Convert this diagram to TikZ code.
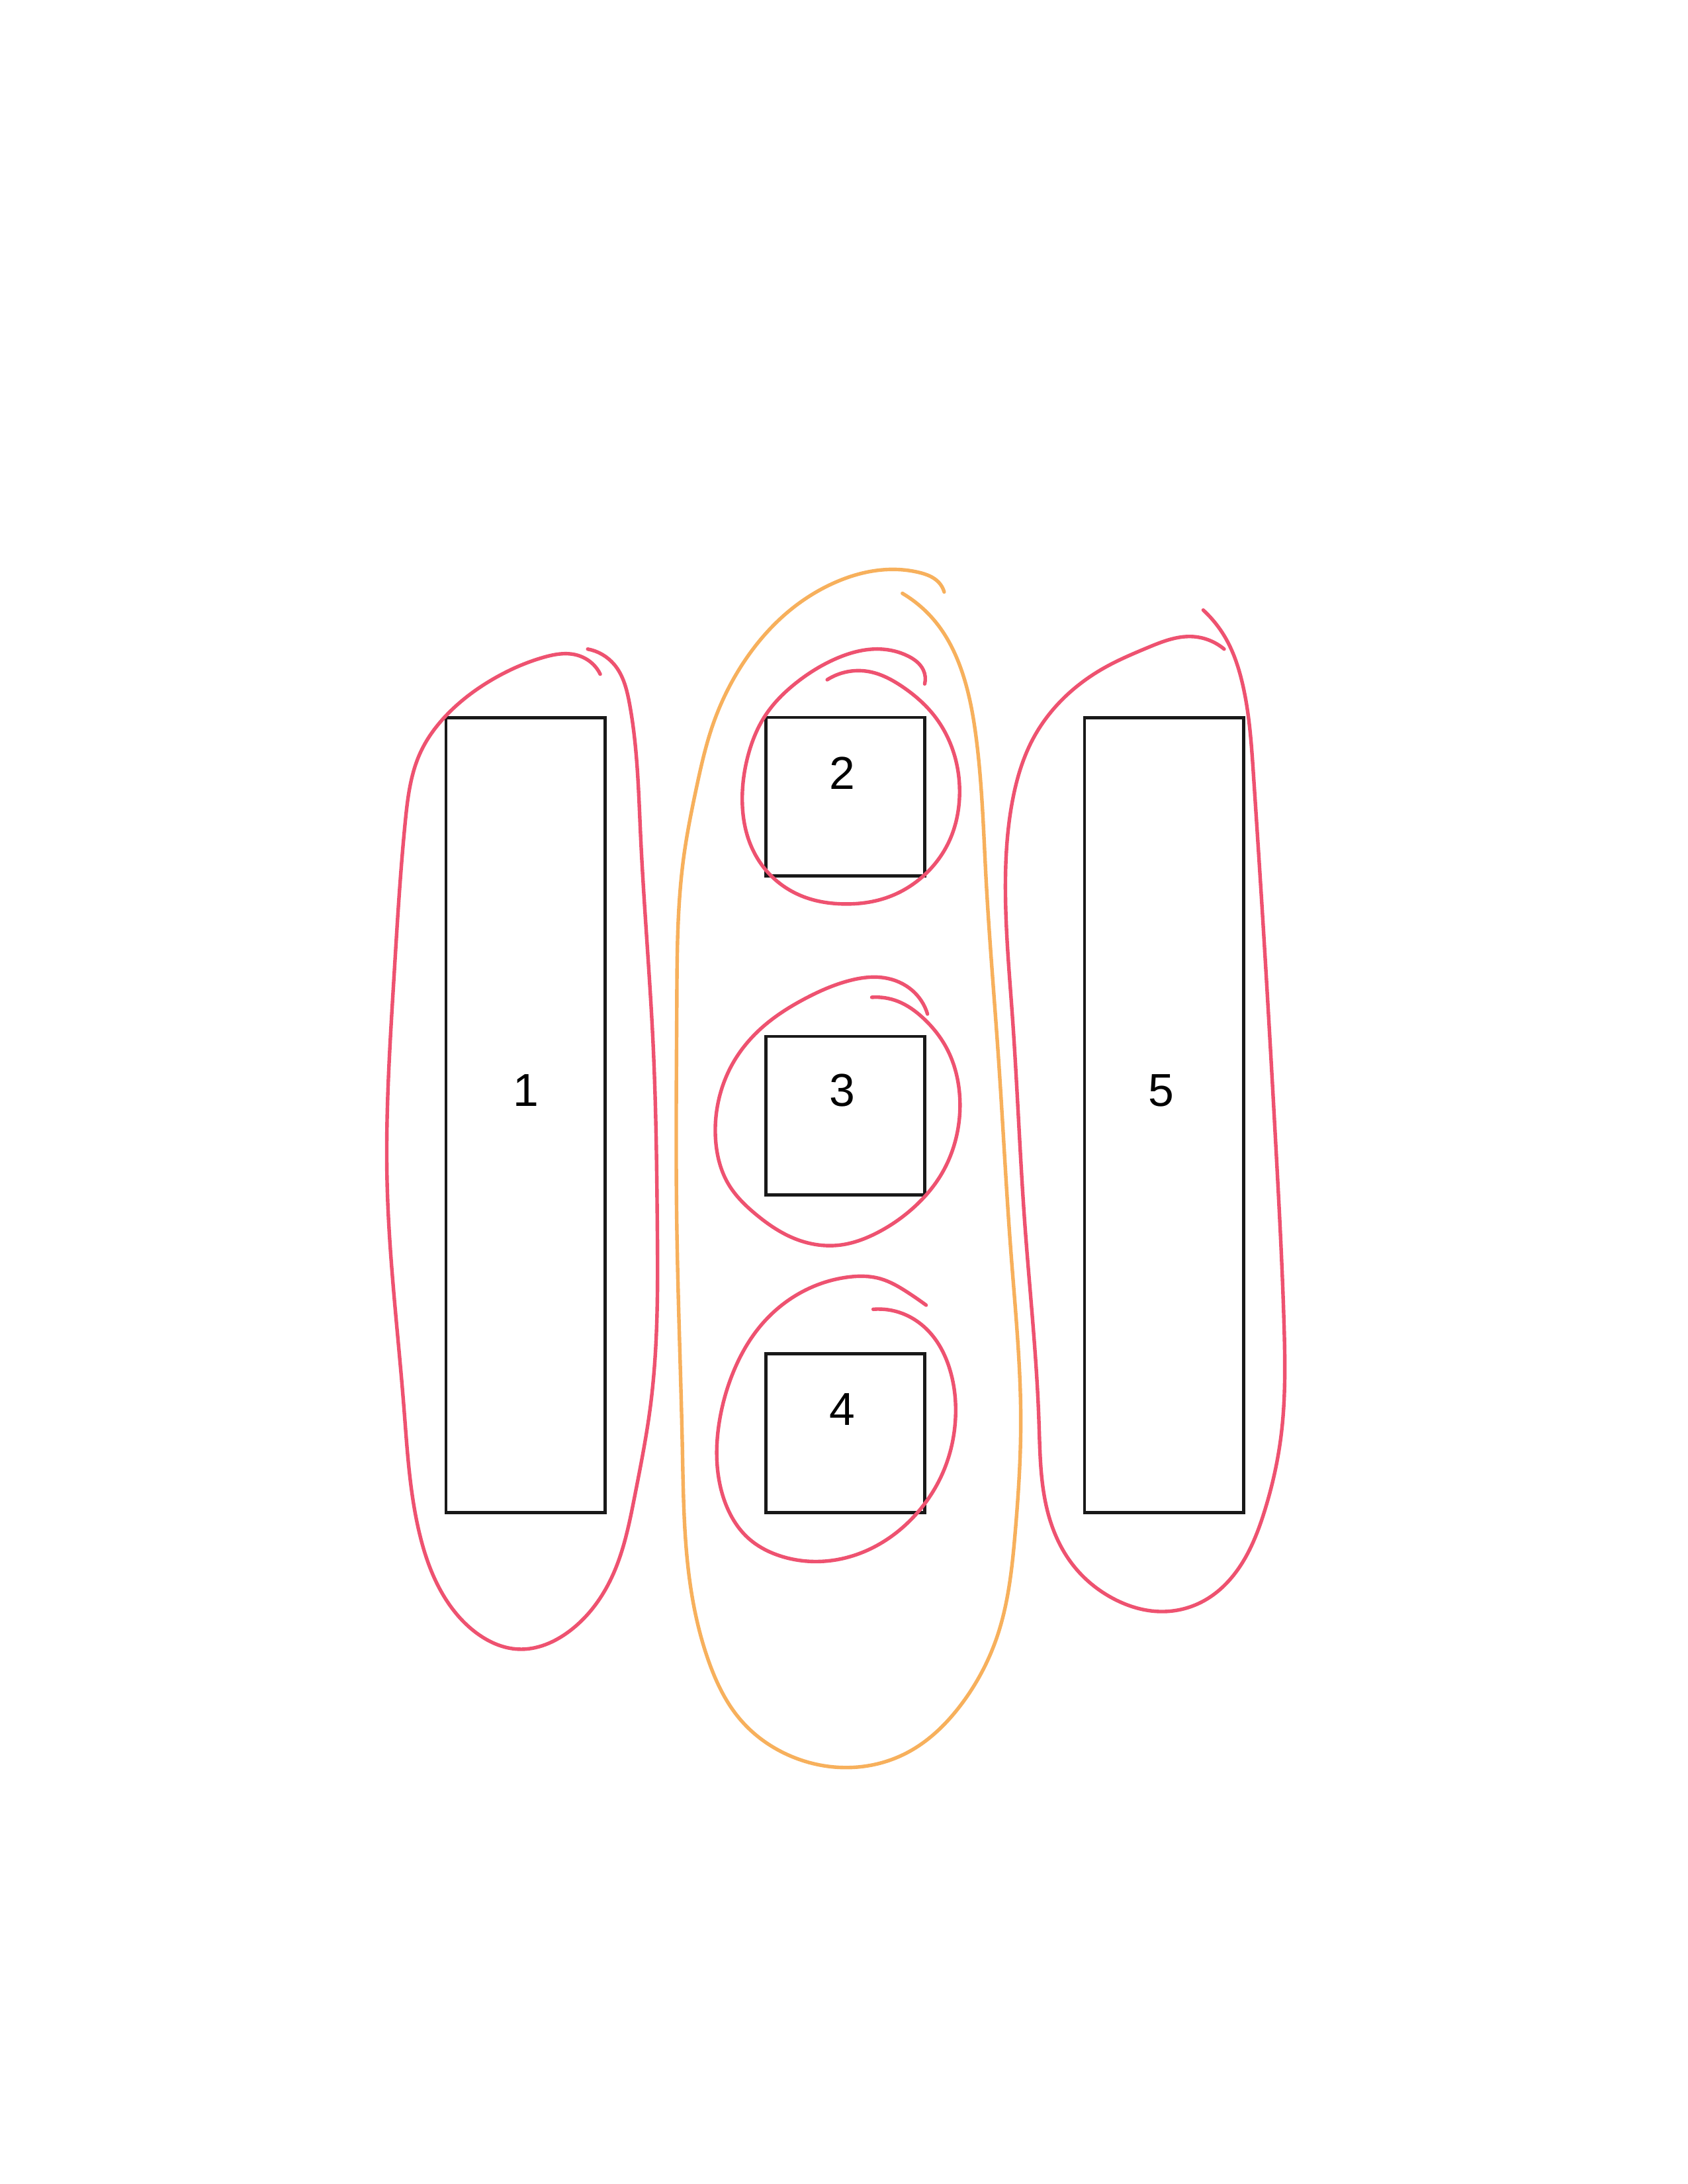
\documentclass[tikz,border=0pt]{standalone}
\usepackage{fontspec}
\setmainfont{Liberation Sans}
\usetikzlibrary{calc,hobby}
\definecolor{loopred}{RGB}{238,82,112}
\definecolor{looporange}{RGB}{247,176,92}
\begin{document}
\begin{tikzpicture}[x=0.0070132in,y=-0.0070132in,
  boxst/.style={draw=black!90,line width=1.15pt,inner sep=0pt,outer sep=0pt},
  tallbox/.style={boxst,minimum width=0.8030in,minimum height=4.0045in},
  sqbox/.style={boxst,minimum width=0.7995in,minimum height=0.7995in},
  lab/.style={inner sep=0pt,font=\fontsize{16.8}{20}\selectfont},
  redloop/.style={draw=loopred,line width=1.3pt,line cap=round,line join=round},
  orangeloop/.style={draw=looporange,line width=1.3pt,line cap=round,line join=round}]
\useasboundingbox[fill=white] (0,0) rectangle (1212,1568);

\node[tallbox] (b1) at (377.5,800.5) {};
\node[sqbox]   (b2) at (607,572) {};
\node[sqbox]   (b3) at (607,801) {};
\node[sqbox]   (b4) at (607,1029) {};
\node[tallbox] (b5) at (836,800.5) {};

\node[lab] (l1) at ($(b1.center)+(0,-17.5)$) {1};
\node[lab] (l2) at ($(b2.center)+(-2,-17)$) {2};
\node[lab] (l3) at ($(b3.center)+(-2,-18)$) {3};
\node[lab] (l4) at ($(b4.center)+(-2,-17)$) {4};
\node[lab] (l5) at ($(b5.center)+(-2,-17.5)$) {5};

% loop around 1
\draw[redloop] (422,466) to[curve through={(441,477) .. (452,505) .. (460,600)
 .. (469,750) .. (472,880) .. (467,1010) .. (456,1073) .. (439,1133)
 .. (409,1171) .. (372,1184) .. (343,1173) .. (320,1148) .. (301,1100) .. (290,1010)
 .. (278,850) .. (283,700) .. (291,590) .. (302,540) .. (322,512) .. (355,487)
 .. (390,472) .. (413,470) .. (426,477)}] (431,484);

% loop around 5
\draw[redloop] (864,438) to[curve through={(880,458) .. (892,490) .. (900,555)
 .. (908,680) .. (916,820) .. (922,950) .. (920,1030) .. (908,1085) .. (888,1128)
 .. (865,1149) .. (834,1157) .. (800,1148) .. (770,1123) .. (753,1088)
 .. (746,1020) .. (736,880) .. (727,730) .. (722,630) .. (727,575) .. (742,530)
 .. (762,503) .. (792,480) .. (824,465) .. (856,457)}] (879,466);

% orange loop around 2, 3, 4
\draw[orangeloop] (648,426) to[curve through={(673,448) .. (690,480) .. (701,530)
 .. (708,630) .. (717,760) .. (726,900) .. (733,1020) .. (729,1100)
 .. (716,1175) .. (690,1224) .. (652,1258) .. (607,1269) .. (566,1260)
 .. (532,1235) .. (509,1193) .. (496,1140) .. (490,1040) .. (486,880)
 .. (486,720) .. (491,615) .. (500,566) .. (512,520) .. (535,474) .. (565,440)
 .. (600,418) .. (635,409) .. (660,411) .. (674,418)}] (678,425);

% circle around 2
\draw[redloop] (594,488) to[curve through={(623,482) .. (648,493) .. (671,514)
 .. (685,541) .. (689,572) .. (682,603) .. (664,628) .. (638,644) .. (606,649)
 .. (575,643) .. (552,627) .. (538,604) .. (533,575) .. (537,543) .. (550,513)
 .. (572,490) .. (600,473) .. (632,466) .. (652,471) .. (663,481)}] (664,491);

% circle around 3
\draw[redloop] (626,716) to[curve through={(645,719) .. (663,731) .. (680,753)
 .. (689,785) .. (687,815) .. (676,843) .. (656,867) .. (630,885) .. (602,894)
 .. (570,889) .. (543,872) .. (523,850) .. (514,820) .. (516,790) .. (527,762)
 .. (548,737) .. (578,717) .. (610,704) .. (635,702) .. (655,711)}] (666,728);

% circle around 4
\draw[redloop] (627,940) to[curve through={(648,943) .. (668,957) .. (682,983)
 .. (686,1020) .. (678,1055) .. (657,1088) .. (625,1112) .. (590,1121) .. (560,1117)
 .. (537,1104) .. (522,1082) .. (515,1052) .. (517,1018) .. (527,984) .. (546,952)
 .. (575,928) .. (608,917) .. (632,918) .. (652,928)}] (665,937);
\end{tikzpicture}
\end{document}
